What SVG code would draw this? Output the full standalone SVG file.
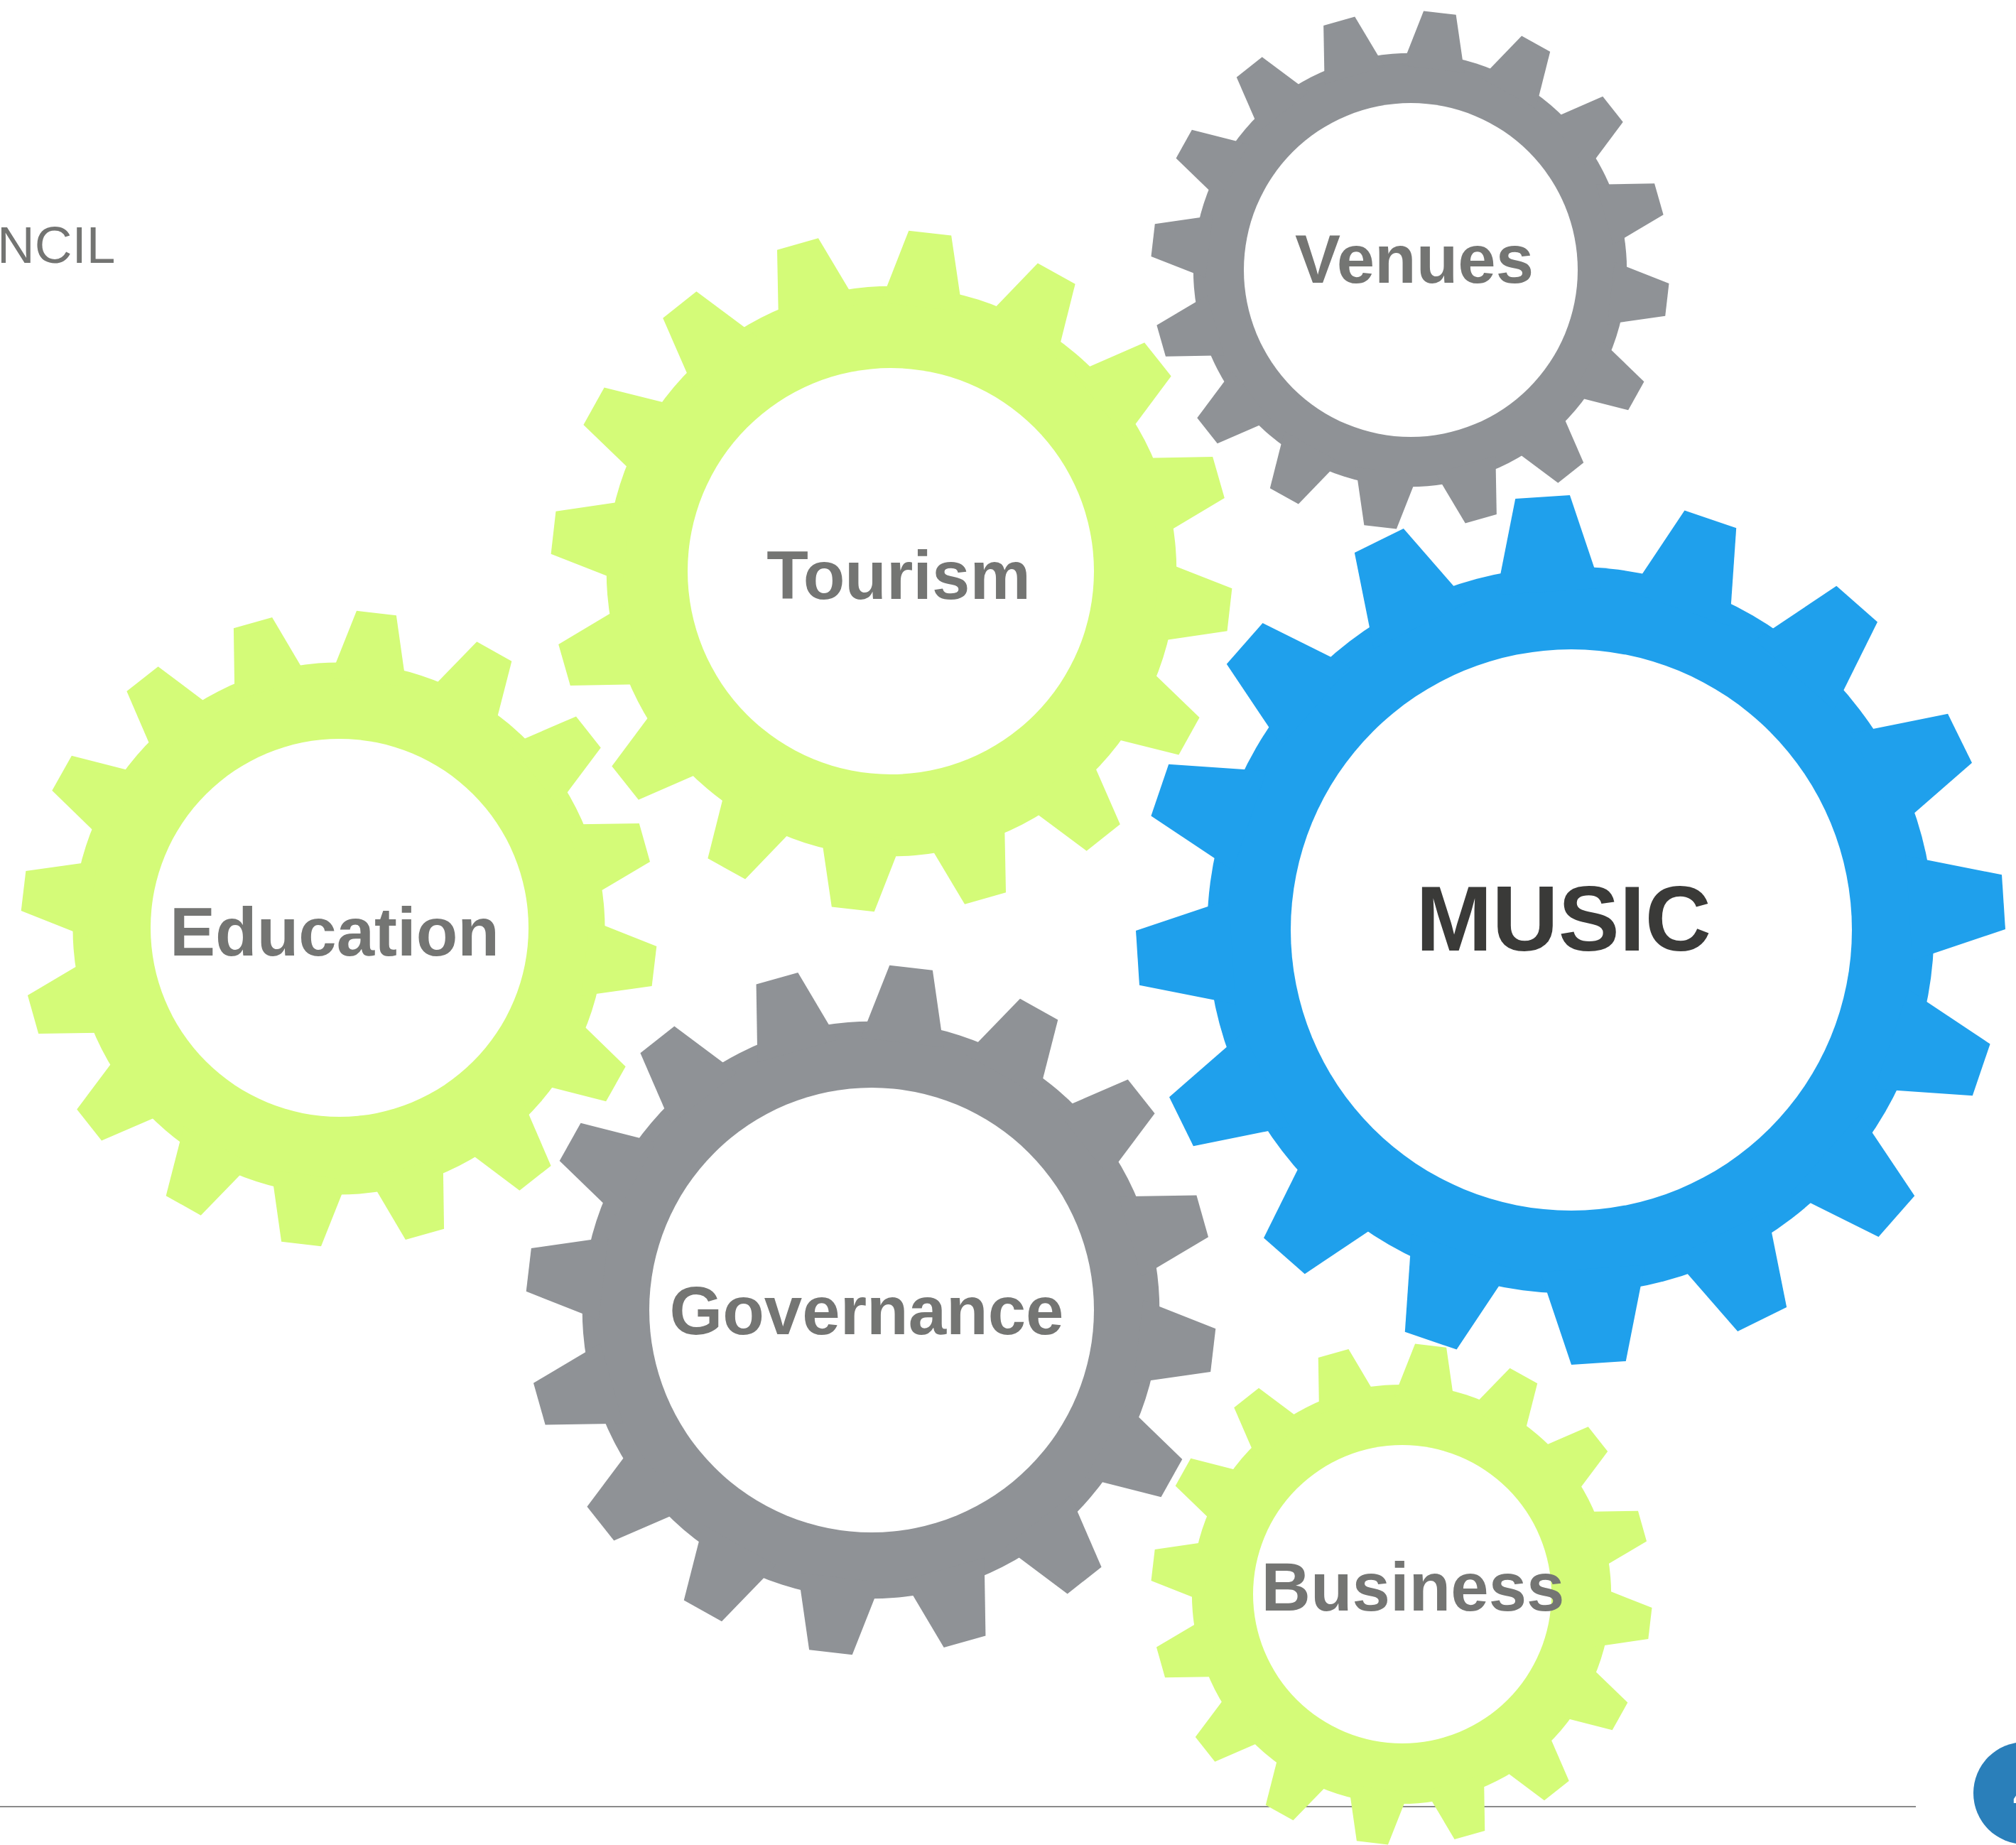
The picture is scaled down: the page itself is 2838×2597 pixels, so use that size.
<svg xmlns="http://www.w3.org/2000/svg" xmlns:xlink="http://www.w3.org/1999/xlink" width="2838" height="2597" viewBox="0 0 2838 2597">
<style>
.lbl{font-family:"Liberation Sans",Arial,sans-serif;font-weight:bold;font-size:96px;fill:#747573;text-anchor:middle}
.big{font-size:129px;fill:#3a3a38}
.hole{fill:#ffffff}
.green{fill:#D4FB78}
.grey{fill:#8F9296}
.blue{fill:#1FA0EC}
</style>
<defs>
<g id="gear">
<circle r="83.6"/>
<polygon id="tooth" points="-12.07,-78 -6.28,-99.8 6.28,-99.8 12.07,-78"/>
<use href="#tooth" transform="rotate(22.5)"/>
<use href="#tooth" transform="rotate(45)"/>
<use href="#tooth" transform="rotate(67.5)"/>
<use href="#tooth" transform="rotate(90)"/>
<use href="#tooth" transform="rotate(112.5)"/>
<use href="#tooth" transform="rotate(135)"/>
<use href="#tooth" transform="rotate(157.5)"/>
<use href="#tooth" transform="rotate(180)"/>
<use href="#tooth" transform="rotate(202.5)"/>
<use href="#tooth" transform="rotate(225)"/>
<use href="#tooth" transform="rotate(247.5)"/>
<use href="#tooth" transform="rotate(270)"/>
<use href="#tooth" transform="rotate(292.5)"/>
<use href="#tooth" transform="rotate(315)"/>
<use href="#tooth" transform="rotate(337.5)"/>
</g>
</defs>
<rect width="2838" height="2597" fill="#ffffff"/>
<text x="-4" y="370" font-family="Liberation Sans, Arial, sans-serif" font-size="73" fill="#737472">NCIL</text>
<line x1="0" y1="2543" x2="2697" y2="2543" stroke="#8a8a8a" stroke-width="2"/>
<g id="connectors"/>
<g id="gear-tourism">
<use href="#gear" class="green" transform="translate(1255,804) rotate(6.5) scale(4.80)"/>
<circle class="hole" cx="1254" cy="804" r="286"/>
<text class="lbl" x="1265" y="843">Tourism</text>
</g>
<g id="gear-education">
<use href="#gear" class="green" transform="translate(477,1307) rotate(6.8) scale(4.48)"/>
<circle class="hole" cx="478" cy="1306" r="266"/>
<text class="lbl" x="471" y="1345">Education</text>
</g>
<g id="gear-governance">
<use href="#gear" class="grey" transform="translate(1226,1844) rotate(6.7) scale(4.86)"/>
<circle class="hole" cx="1227" cy="1844" r="313"/>
<text class="lbl" x="1220" y="1878">Governance</text>
</g>
<g id="gear-venues">
<use href="#gear" class="grey" transform="translate(1985,380) rotate(6.6) scale(3.65)"/>
<circle class="hole" cx="1986" cy="380" r="235"/>
<text class="lbl" x="1991" y="398">Venues</text>
</g>
<g id="gear-business">
<use href="#gear" class="green" transform="translate(1973,2244) rotate(6.7) scale(3.53)"/>
<circle class="hole" cx="1974" cy="2244" r="210"/>
<text class="lbl" x="1989" y="2267">Business</text>
</g>
<g id="gear-music">
<use href="#gear" class="blue" transform="translate(2211,1309) rotate(-3.7) scale(6.12)"/>
<circle class="hole" cx="2212" cy="1309" r="395"/>
<text class="lbl big" x="2201" y="1338">MUSIC</text>
</g>
<g id="page-badge">
<circle cx="2850" cy="2524" r="72" fill="#2A7FBA"/>
<text x="2834" y="2546" font-family="Liberation Sans, Arial, sans-serif" font-weight="bold" font-size="56" fill="#ffffff">4</text>
</g>
</svg>
